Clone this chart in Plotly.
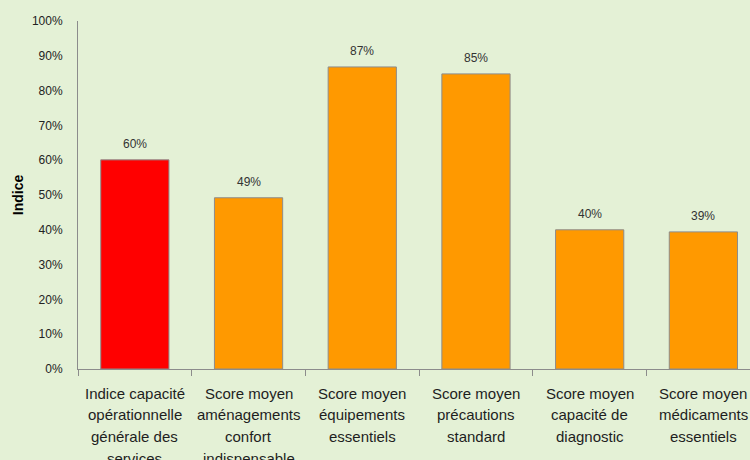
import plotly.graph_objects as go

# Categories, their wrapped label lines, and values
categories = [
    "Indice capacité opérationnelle générale des services",
    "Score moyen aménagements confort indispensable",
    "Score moyen équipements essentiels",
    "Score moyen précautions standard",
    "Score moyen capacité de diagnostic",
    "Score moyen médicaments essentiels",
]
label_lines = [
    ["Indice capacité", "opérationnelle", "générale des", "services"],
    ["Score moyen", "aménagements", "confort", "indispensable"],
    ["Score moyen", "équipements", "essentiels"],
    ["Score moyen", "précautions", "standard"],
    ["Score moyen", "capacité de", "diagnostic"],
    ["Score moyen", "médicaments", "essentiels"],
]
values = [60.1, 49.2, 86.8, 84.8, 40.0, 39.4]
bar_colors = ["#FF0000", "#FF9900", "#FF9900", "#FF9900", "#FF9900", "#FF9900"]

bg = "#E4F1D6"
font_family = "Liberation Sans, Arial"

fig = go.Figure()
fig.add_trace(
    go.Bar(
        x=categories,
        y=values,
        marker=dict(color=bar_colors, line=dict(color="#8C8C8C", width=1)),
        width=0.6,
        hoverinfo="skip",
    )
)

# value labels above bars
for cat, v in zip(categories, values):
    fig.add_annotation(
        x=cat, y=v, text=f"{v:.0f}%", showarrow=False,
        yanchor="middle", yshift=16,
        font=dict(family=font_family, size=12, color="#333333"),
    )

# category labels, one line per annotation (Excel-like line spacing)
for cat, lines in zip(categories, label_lines):
    for i, line in enumerate(lines):
        fig.add_annotation(
            x=cat, y=0, text=line, showarrow=False,
            yanchor="middle", yshift=-24 - 21.7 * i,
            font=dict(family=font_family, size=15, color="#1E1E1E"),
        )

fig.update_layout(
    width=750,
    height=460,
    margin=dict(l=78, r=0, t=21, b=91),
    plot_bgcolor=bg,
    paper_bgcolor=bg,
    showlegend=False,
    font=dict(family=font_family, color="#222222"),
    xaxis=dict(
        type="category",
        range=[-0.5, 5.41],
        showline=True,
        linecolor="#8C8C8C",
        linewidth=1,
        ticks="outside",
        tickson="boundaries",
        ticklen=6,
        tickcolor="#8C8C8C",
        showticklabels=False,
        showgrid=False,
        zeroline=False,
    ),
    yaxis=dict(
        range=[0, 100],
        dtick=10,
        ticksuffix="%",
        showline=True,
        linecolor="#8C8C8C",
        linewidth=1,
        ticks="",
        ticklabelstandoff=12,
        showgrid=False,
        zeroline=False,
        tickfont=dict(size=12, color="#222222"),
        title=dict(
            text="<b>Indice</b>",
            font=dict(size=14, color="#000000"),
            standoff=4,
        ),
    ),
)

# remove the page margin so the figure fills the window
fig.write_html(
    "out.html",
    config={"displayModeBar": False},
    post_script="document.body.style.margin='0';",
)
